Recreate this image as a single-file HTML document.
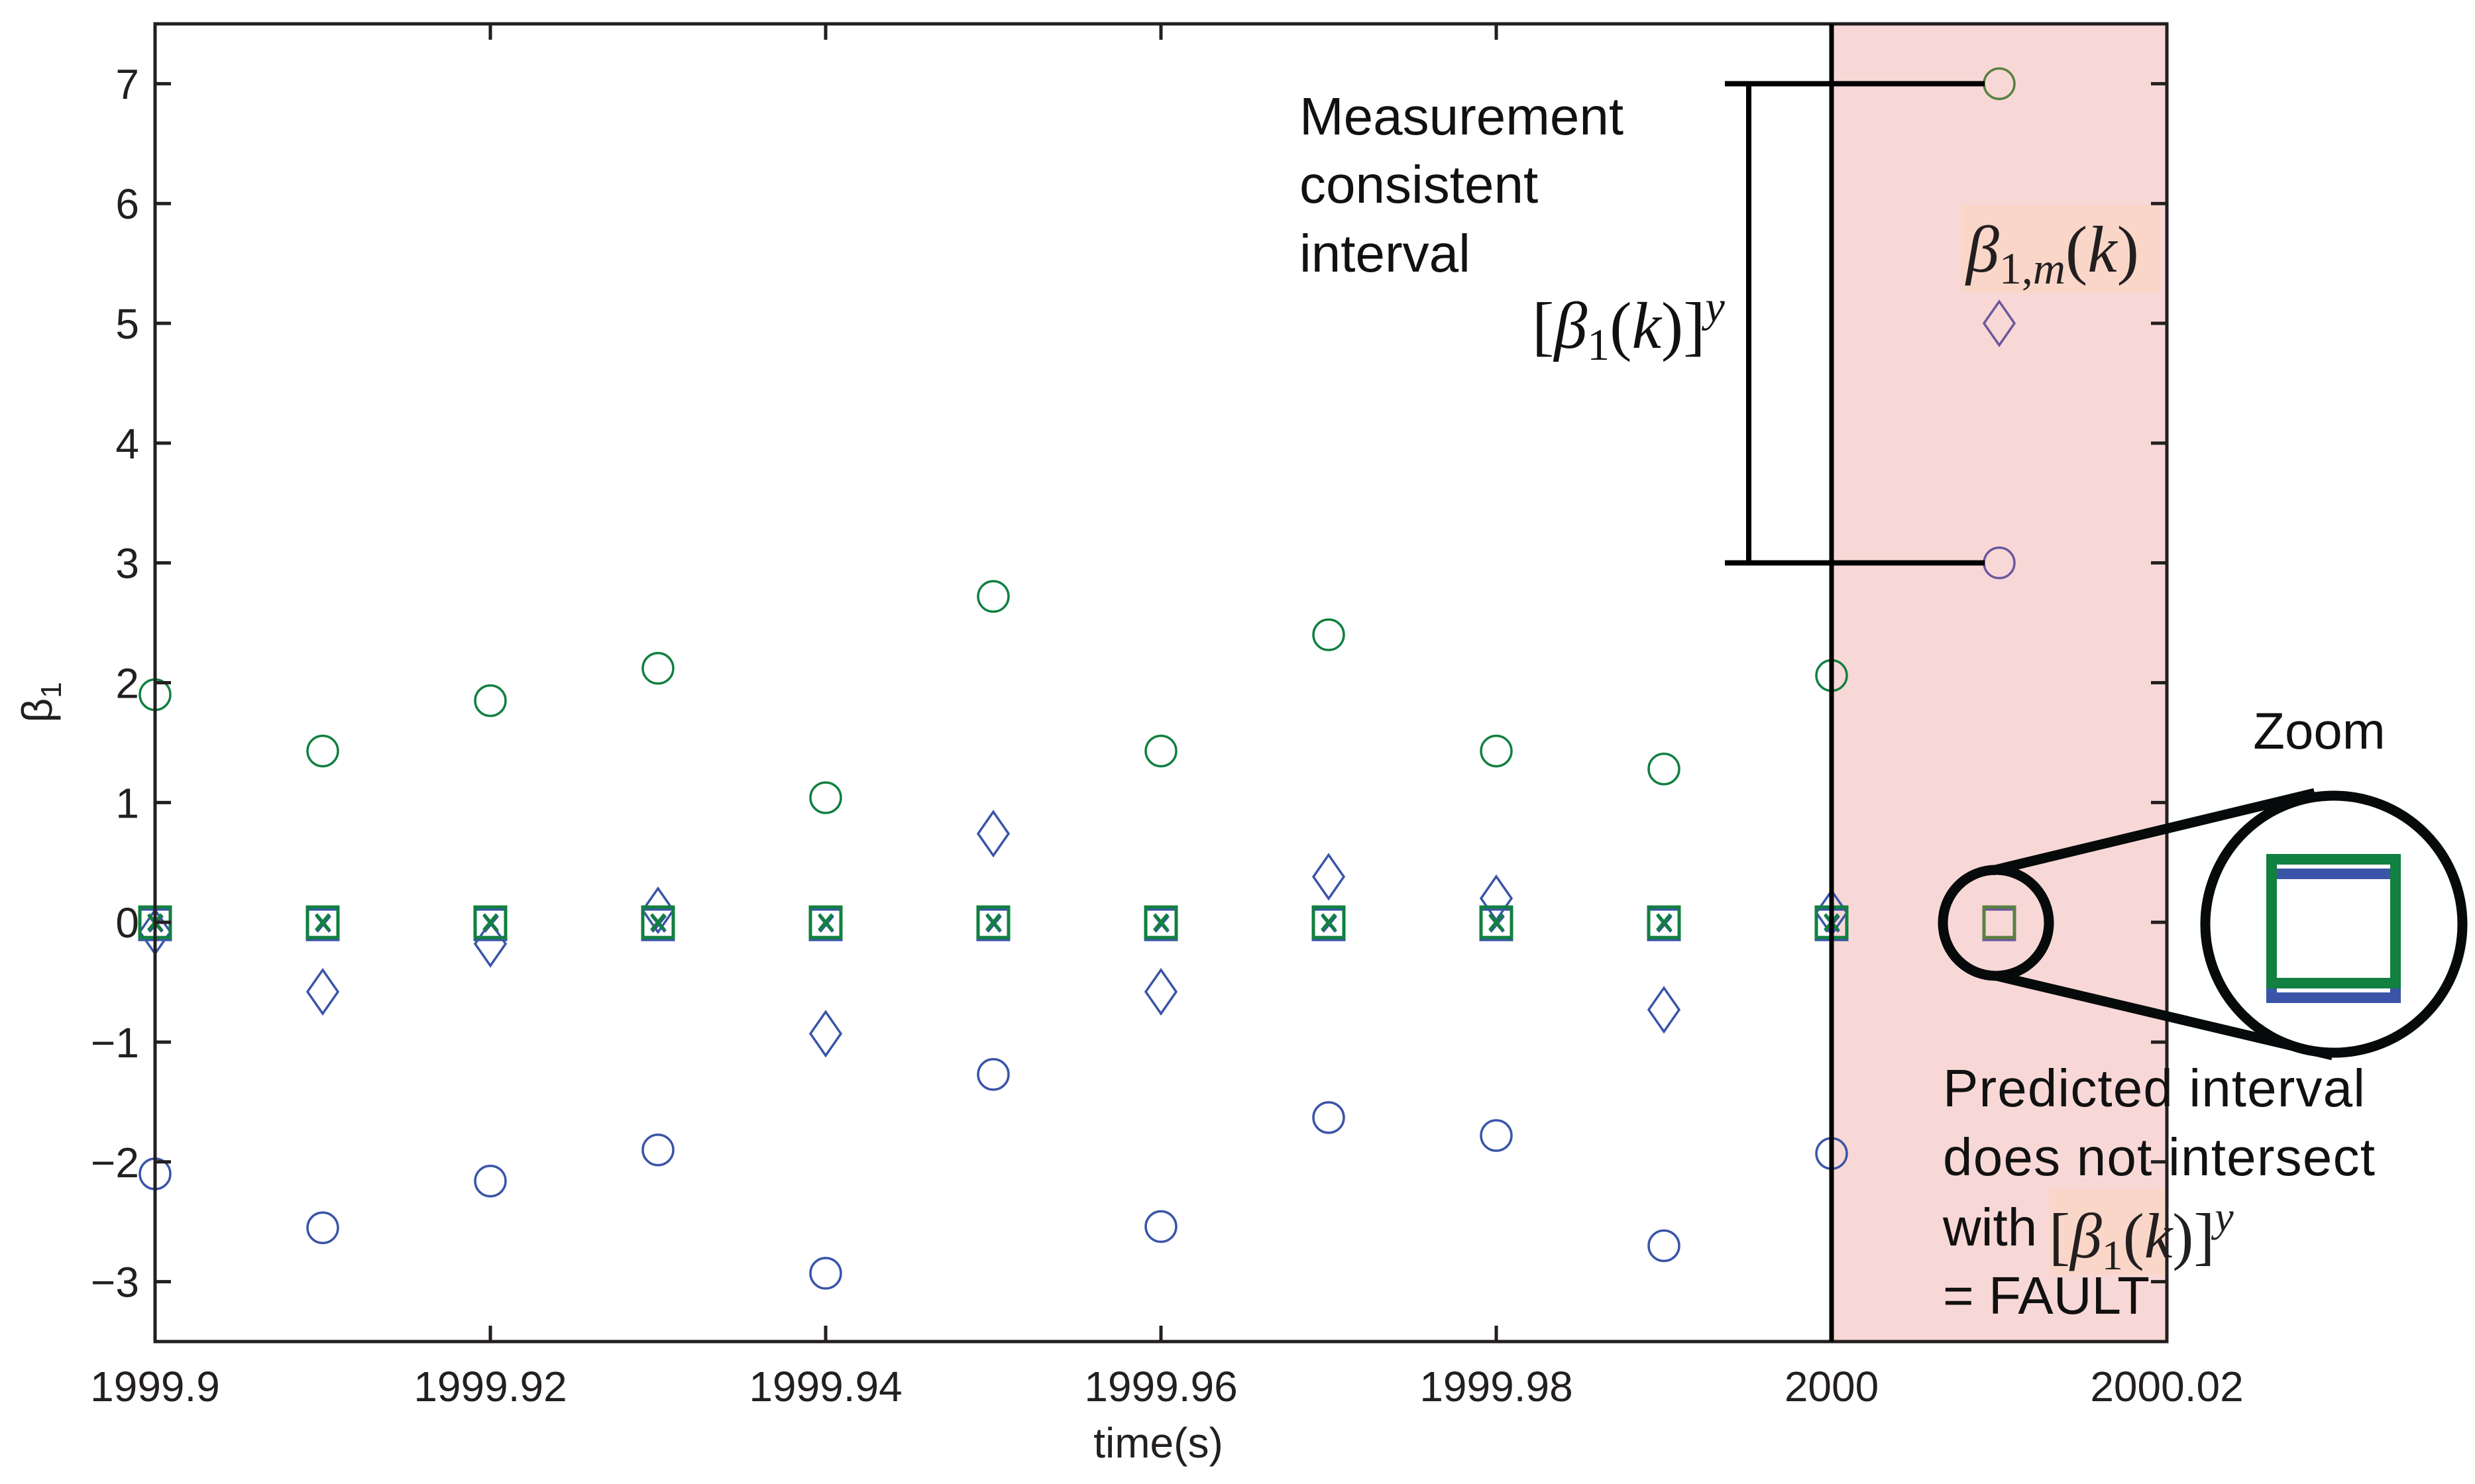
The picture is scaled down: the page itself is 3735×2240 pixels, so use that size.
<!DOCTYPE html>
<html><head><meta charset="utf-8"><style>
html,body{margin:0;padding:0;background:#fff;}
svg{display:block;}
.sans{font-family:"Liberation Sans",sans-serif;}
.serif{font-family:"Liberation Serif",serif;}
</style></head><body>
<svg id="chart" width="3735" height="2240" viewBox="0 0 3735 2240" xmlns="http://www.w3.org/2000/svg">
<g id="plot"></g>
</svg>
<script>
const times = [1999.90,1999.91,1999.92,1999.93,1999.94,1999.95,1999.96,1999.97,1999.98,1999.99,2000.00];
const upperBounds = [1.9,1.43,1.85,2.12,1.04,2.72,1.43,2.4,1.43,1.28,2.06];
const lowerBounds = [-2.1,-2.55,-2.16,-1.9,-2.93,-1.27,-2.54,-1.63,-1.78,-2.7,-1.93];
const estimates = [-0.08,-0.58,-0.18,0.1,-0.93,0.74,-0.58,0.38,0.2,-0.73,0.08];
const measured = [0,0,0,0,0,0,0,0,0,0,0];
const faultTime = [2000.01];
const faultUpper = [7];
const faultEstimate = [5];
const faultLower = [3];
const faultMeasured = [0];
const xTicks = [1999.9,1999.92,1999.94,1999.96,1999.98,2000,2000.02];
const xTickLabels = ["1999.9","1999.92","1999.94","1999.96","1999.98","2000","2000.02"];
const yTicks = [-3,-2,-1,0,1,2,3,4,5,6,7];
const yTickLabels = ["\u22123","\u22122","\u22121","0","1","2","3","4","5","6","7"];

const L=234,R=3270,T=36,B=2025;
const xMin=1999.9,xMax=2000.02,yMin=-3.5,yMax=7.5;
const xs=v=>L+(v-xMin)/(xMax-xMin)*(R-L);
const ys=v=>T+(yMax-v)/(yMax-yMin)*(B-T);
const NS="http://www.w3.org/2000/svg";
const g=document.getElementById('plot');
function mk(tag,attrs,parent){const e=document.createElementNS(NS,tag);for(const k in attrs)e.setAttribute(k,attrs[k]);(parent||g).appendChild(e);return e;}

let e=mk('rect',{x:xs(2000),y:T,width:xs(2000.02)-xs(2000),height:B-T,fill:'#f8d8d6'});



const GREEN='#118040',BLUE='#3a55a8',RS=23;
function circle(cx,cy,col,name){const c=mk('circle',{cx:cx,cy:cy,r:RS,fill:'none',stroke:col,'stroke-width':3.5});

}
function diamond(cx,cy,col,name){const p=mk('path',{d:`M${cx},${cy-33}L${cx+23},${cy}L${cx},${cy+33}L${cx-23},${cy}Z`,fill:'none',stroke:col,'stroke-width':3.5});

}
function square(cx,cy,col,name,off){const p=mk('rect',{x:cx-23,y:cy-23+off,width:46,height:46,fill:'none',stroke:col,'stroke-width':5});

}
function cross(cx,cy,col,name){const p=mk('path',{d:`M${cx-10},${cy-12}L${cx+10},${cy+12}M${cx+10},${cy-12}L${cx-10},${cy+12}`,fill:'none',stroke:col,'stroke-width':5});

}

times.forEach((t,i)=>{
  const cx=xs(t);
  circle(cx,ys(upperBounds[i]),GREEN,'upper-bound-point');
  circle(cx,ys(lowerBounds[i]),BLUE,'lower-bound-point');
  diamond(cx,ys(estimates[i]),BLUE,'estimate-point');
  square(cx,ys(measured[i]),BLUE,'measured-lower-square',3);
  square(cx,ys(measured[i]),GREEN,'measured-upper-square',0);
  cross(cx+1,ys(measured[i])+2,BLUE,'measured-cross-blue');
  cross(cx,ys(measured[i]),GREEN,'measured-cross-green');
});
faultTime.forEach((t,i)=>{
  const cx=xs(t);
  circle(cx,ys(faultUpper[i]),'#5a8040','fault-upper-point');
  circle(cx,ys(faultLower[i]),'#6a58a0','fault-lower-point');
  diamond(cx,ys(faultEstimate[i]),'#6a58a0','fault-estimate-point');
  square(cx,ys(faultMeasured[i]),'#6a58a0','fault-measured-lower',3);
  square(cx,ys(faultMeasured[i]),'#5a8040','fault-measured-upper',0);
});

e=mk('rect',{x:L,y:T,width:R-L,height:B-T,fill:'none',stroke:'#231f20','stroke-width':5});


xTicks.forEach((v,i)=>{
  const x=xs(v);
  let t=mk('path',{d:`M${x},${B}V${B-24}M${x},${T}V${T+24}`,stroke:'#231f20','stroke-width':5});
  
  
  let lb=mk('text',{x:x,y:2115,'text-anchor':'middle','font-size':64,fill:'#231f20',class:'sans'});
  lb.textContent=xTickLabels[i];
  
  
});
yTicks.forEach((v,i)=>{
  const y=ys(v);
  let t=mk('path',{d:`M${L},${y}H${L+24}M${R},${y}H${R-24}`,stroke:'#231f20','stroke-width':5});
  
  
  let lb=mk('text',{x:210,y:y+23,'text-anchor':'end','font-size':64,fill:'#231f20',class:'sans'});
  lb.textContent=yTickLabels[i];
  
  
});
e=mk('line',{x1:xs(2000),y1:T,x2:xs(2000),y2:B,stroke:'#000','stroke-width':7});


e=mk('path',{d:`M2603,${ys(7)}H2995M2639,${ys(7)}V${ys(3)}M2603,${ys(3)}H2995`,stroke:'#000','stroke-width':8,fill:'none'});


</script>
<svg style="position:absolute;left:0;top:0" width="3735" height="2240" xmlns="http://www.w3.org/2000/svg">
<text class="sans" x="1961" y="203" font-size="80" fill="#111">Measurement</text>
<text class="sans" x="1961" y="306" font-size="80" fill="#111">consistent</text>
<text class="sans" x="1961" y="410" font-size="80" fill="#111">interval</text>
<text class="serif" x="2312" y="525" font-size="100" fill="#111">[<tspan font-style="italic">β</tspan><tspan font-size="68" dy="18">1</tspan><tspan dy="-18">(</tspan><tspan font-style="italic">k</tspan>)]<tspan font-style="italic" font-size="66" dy="-40">y</tspan></text>
<rect x="2961" y="310" width="299" height="132" fill="#f9d6c8"/>
<text class="serif" x="2967" y="410" font-size="100" fill="#231f20"><tspan font-style="italic">β</tspan><tspan font-size="68" dy="18">1,<tspan font-style="italic">m</tspan></tspan><tspan dy="-18">(</tspan><tspan font-style="italic">k</tspan>)</text>
<text class="sans" x="3500" y="1130" font-size="78" text-anchor="middle" fill="#111">Zoom</text>
<path d="M3007,1314L3493,1197M3013,1473L3520,1593" stroke="#060a0a" stroke-width="15" fill="none"/>
<circle cx="3012" cy="1393" r="80" fill="none" stroke="#060a0a" stroke-width="15"/>
<circle cx="3522" cy="1395" r="194" fill="#fff" stroke="#060a0a" stroke-width="15"/>
<rect x="3428" y="1319" width="187" height="187" fill="none" stroke="#3a55a8" stroke-width="16"/>
<rect x="3428" y="1297" width="187" height="187" fill="none" stroke="#118040" stroke-width="16"/>
<text class="sans" x="2932" y="1670" font-size="80" fill="#111" textLength="637">Predicted interval</text>
<text class="sans" x="2932" y="1774" font-size="80" fill="#111" textLength="652">does not intersect</text>
<rect x="3093" y="1795" width="174" height="129" fill="#f9d6c8"/>
<text class="sans" x="2932" y="1880" font-size="80" fill="#111">with</text>
<text class="serif" x="3092" y="1898" font-size="96" fill="#231f20">[<tspan font-style="italic">β</tspan><tspan font-size="64" dy="18">1</tspan><tspan dy="-18">(</tspan><tspan font-style="italic">k</tspan>)]<tspan font-style="italic" font-size="64" dy="-40">y</tspan></text>
<text class="sans" x="2932" y="1983" font-size="80" fill="#111">= FAULT</text>
<text class="sans" x="1748" y="2200" font-size="64" text-anchor="middle" fill="#231f20">time(s)</text>
<text class="sans" transform="translate(78,1060) rotate(-90)" font-size="64" text-anchor="middle" fill="#231f20">β<tspan font-size="44" dy="14">1</tspan></text>
</svg>
</body></html>
